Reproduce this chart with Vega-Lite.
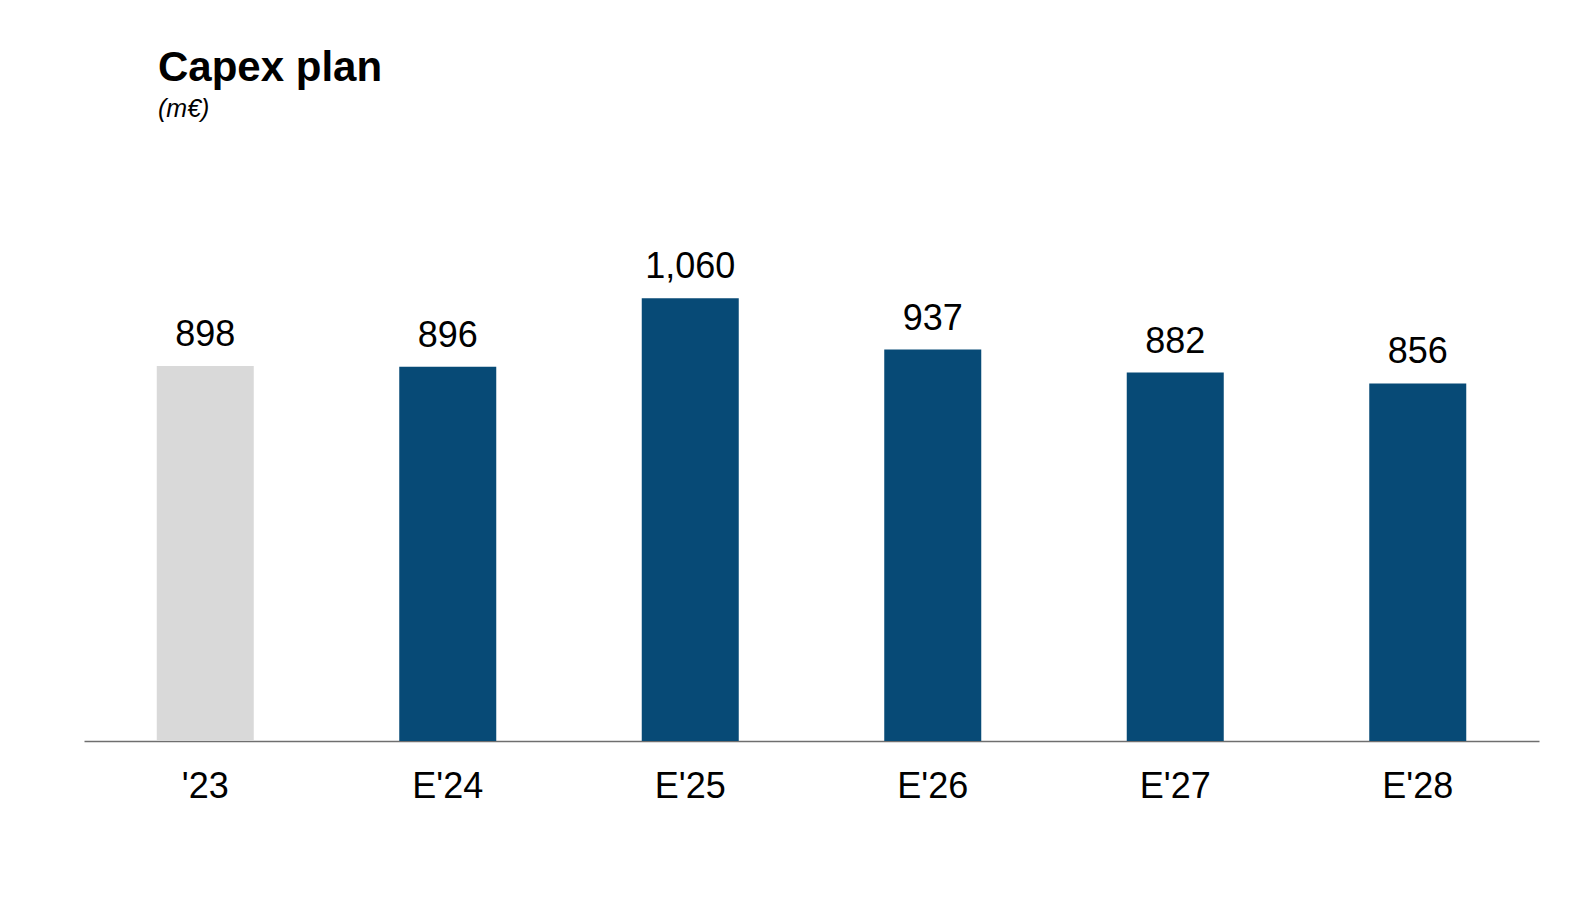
{
  "$schema": "https://vega.github.io/schema/vega-lite/v6.json",
  "width": 1455,
  "height": 543,
  "padding": {"left": 84, "top": 47, "right": 44, "bottom": 20},
  "background": "white",
  "title": {
    "text": "Capex plan",
    "subtitle": "(m€)",
    "anchor": "start",
    "frame": "group",
    "dx": 74,
    "offset": 75,
    "font": "Liberation Sans",
    "fontSize": 42,
    "fontWeight": "bold",
    "color": "#000000",
    "subtitleFont": "Liberation Sans",
    "subtitleFontSize": 25,
    "subtitleFontStyle": "italic",
    "subtitleColor": "#000000",
    "subtitlePadding": 7
  },
  "data": {
    "values": [
      {"year": "'23", "capex": 898, "kind": "Actual"},
      {"year": "E'24", "capex": 896, "kind": "Plan"},
      {"year": "E'25", "capex": 1060, "kind": "Plan"},
      {"year": "E'26", "capex": 937, "kind": "Plan"},
      {"year": "E'27", "capex": 882, "kind": "Plan"},
      {"year": "E'28", "capex": 856, "kind": "Plan"}
    ]
  },
  "encoding": {
    "x": {
      "field": "year",
      "type": "nominal",
      "sort": null,
      "scale": {"paddingInner": 0.6, "paddingOuter": 0.3},
      "axis": {
        "title": null,
        "labelAngle": 0,
        "ticks": false,
        "labelPadding": 28,
        "labelFont": "Liberation Sans",
        "labelFontSize": 36,
        "labelColor": "#000000",
        "domainColor": "#6f6f6f",
        "domainWidth": 1.5,
        "grid": false
      }
    },
    "y": {
      "field": "capex",
      "type": "quantitative",
      "scale": {"domain": [0, 1300], "nice": false},
      "axis": null
    }
  },
  "layer": [
    {
      "mark": {"type": "bar"},
      "encoding": {
        "color": {
          "field": "kind",
          "type": "nominal",
          "scale": {"domain": ["Actual", "Plan"], "range": ["#d9d9d9", "#074a76"]},
          "legend": null
        }
      }
    },
    {
      "mark": {
        "type": "text",
        "baseline": "alphabetic",
        "dy": -20,
        "font": "Liberation Sans",
        "fontSize": 36,
        "color": "#000000"
      },
      "encoding": {
        "text": {"field": "capex", "type": "quantitative", "format": ",d"}
      }
    }
  ],
  "config": {
    "view": {"stroke": null}
  }
}
